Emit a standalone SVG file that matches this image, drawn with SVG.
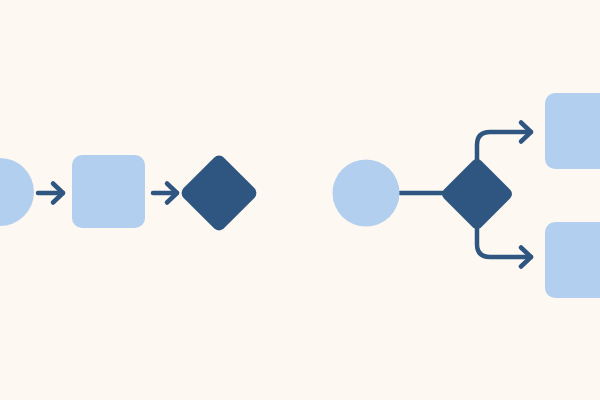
<svg xmlns="http://www.w3.org/2000/svg" width="600" height="400" viewBox="0 0 600 400">
  <style>
    .light { fill: #B3CFF0; }
    .dark { fill: #2F5680; }
    .conn { fill: none; stroke: #2F5680; stroke-width: 4.5; stroke-linecap: round; stroke-linejoin: round; }
  </style>
  <defs>
    <marker id="arrow" markerUnits="userSpaceOnUse" markerWidth="30" markerHeight="30" viewBox="-15 -15 30 30" refX="0" refY="0" orient="auto" overflow="visible">
      <path d="M-10,-9.5 L0,0 L-10,9.5" fill="none" stroke="#2F5680" stroke-width="4.5" stroke-linecap="round" stroke-linejoin="round"/>
    </marker>
  </defs>
  <rect width="600" height="400" fill="#FDF8F1"/>

  <g id="connectors">
    <path class="conn" d="M38,193 L63,193" marker-end="url(#arrow)"/>
    <path class="conn" d="M153,193 L177,193" marker-end="url(#arrow)"/>
    <path class="conn" d="M400,193 L450,193"/>
    <path class="conn" d="M477,160 L477,145 Q477,132 490,132 L531,132" marker-end="url(#arrow)"/>
    <path class="conn" d="M477,226 L477,244 Q477,257 490,257 L531,257" marker-end="url(#arrow)"/>
  </g>

  <g id="start-left">
    <circle class="light" cx="0" cy="192" r="34"/>
  </g>
  <g id="process-left">
    <rect class="light" x="72" y="155" width="73" height="73" rx="10"/>
  </g>
  <g id="decision-left">
    <rect class="dark" x="-28.5" y="-28.5" width="57" height="57" rx="7" transform="translate(219,193) rotate(45)"/>
  </g>

  <g id="start-right">
    <circle class="light" cx="366" cy="193" r="33.5"/>
  </g>
  <g id="decision-right">
    <rect class="dark" x="-26.5" y="-26.5" width="53" height="53" rx="6" transform="translate(477,194) rotate(45)"/>
  </g>
  <g id="process-top">
    <rect class="light" x="545" y="93" width="70" height="76" rx="10"/>
  </g>
  <g id="process-bottom">
    <rect class="light" x="545" y="222" width="70" height="76" rx="10"/>
  </g>
</svg>
